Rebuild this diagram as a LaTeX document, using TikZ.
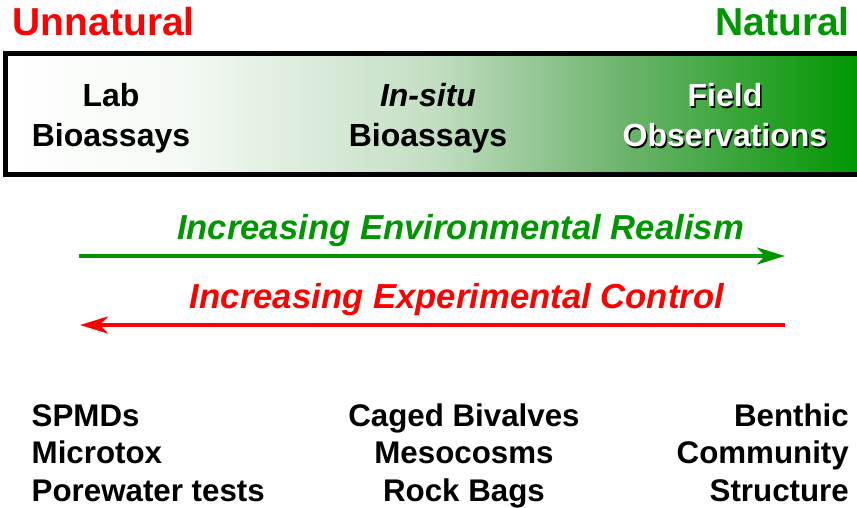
\documentclass[tikz,border=0pt]{standalone}
\usepackage{fontspec}
\setmainfont{Liberation Sans}
\usetikzlibrary{
	arrows.meta
}
\definecolor{natgreen}{RGB}{0,150,0}
\definecolor{unred}{RGB}{255,0,0}
\definecolor{gradA}{RGB}{245,250,245}
\definecolor{gradB}{RGB}{195,222,195}
\definecolor{gradC}{RGB}{110,180,110}
\pgfdeclarehorizontalshading{realism}{100bp}{
	color(0bp)=(white); color(25bp)=(white); color(35bp)=(gradA);
	color(50bp)=(gradB); color(61bp)=(gradC); color(75bp)=(natgreen);
	color(100bp)=(natgreen)
}
\newcommand{\linesbox}[2][c]{%
	\begin{tabular}[t]{@{}#1@{}}
		#2
	\end{tabular}%
}

\begin{document}
\begin{tikzpicture}[x=1pt,y=-1pt,
		ends/.style={inner sep=0pt,anchor=base,font=\bfseries\fontsize{39}{44}\selectfont},
		stage/.style={inner sep=0pt,anchor=base,font=\bfseries\fontsize{32}{40}\selectfont},
		trend/.style={inner sep=0pt,anchor=base,font=\bfseries\itshape\fontsize{34.7}{40}\selectfont},
		tool/.style={inner sep=0pt,anchor=base,font=\bfseries\fontsize{31.3}{37.5}\selectfont},
		trendline/.style={line width=4pt,-{Stealth[length=28pt,width=17pt,inset=8pt]}}
	]
			\useasboundingbox (0,0) rectangle (857,508);
			\clip (0,0) rectangle (857,508);

			\node[ends,anchor=base west,text=unred] (unnat) at (12.5,36) {Unnatural};
			\node[ends,anchor=base east,text=natgreen] (nat) at (850,36) {Natural};

			\draw[line width=5pt,shading=realism] (5.5,53.5) rectangle (859.5,174.5);

			\node[stage] (lab) at (111,107) {\linesbox{Lab \\ Bioassays}};
			\node[stage] (insitu) at (428,107) {\linesbox{\textit{In-situ} \\ Bioassays}};
			\node[stage,text=black] (fieldshadow) at (726.5,108.5) {\linesbox{Field \\ Observations}};
			\node[stage,text=white] (field) at (725,107) {\linesbox{Field \\ Observations}};

			\node[trend,text=natgreen] (realism) at (460.5,239) {Increasing Environmental Realism};
			\node[trend,text=unred] (control) at (457,308) {Increasing Experimental Control};

			\coordinate (gfrom) at (79,256);
			\coordinate (gto) at (785,256);
			\coordinate (rfrom) at (785,325);
			\coordinate (rto) at (80,325);
			\draw[trendline,color=natgreen] (gfrom) -- (gto);
			\draw[trendline,color=unred] (rfrom) -- (rto);

			\node[tool,anchor=base west] (labtools) at (31.5,426) {\linesbox[l]{SPMDs \\ Microtox \\ Porewater tests}};
			\node[tool] (insitutools) at (464,426) {\linesbox{Caged Bivalves \\ Mesocosms \\ Rock Bags}};
			\node[tool,anchor=base east] (fieldtools) at (849,426) {\linesbox[r]{Benthic \\ Community \\ Structure}};
		\end{tikzpicture}
\end{document}
